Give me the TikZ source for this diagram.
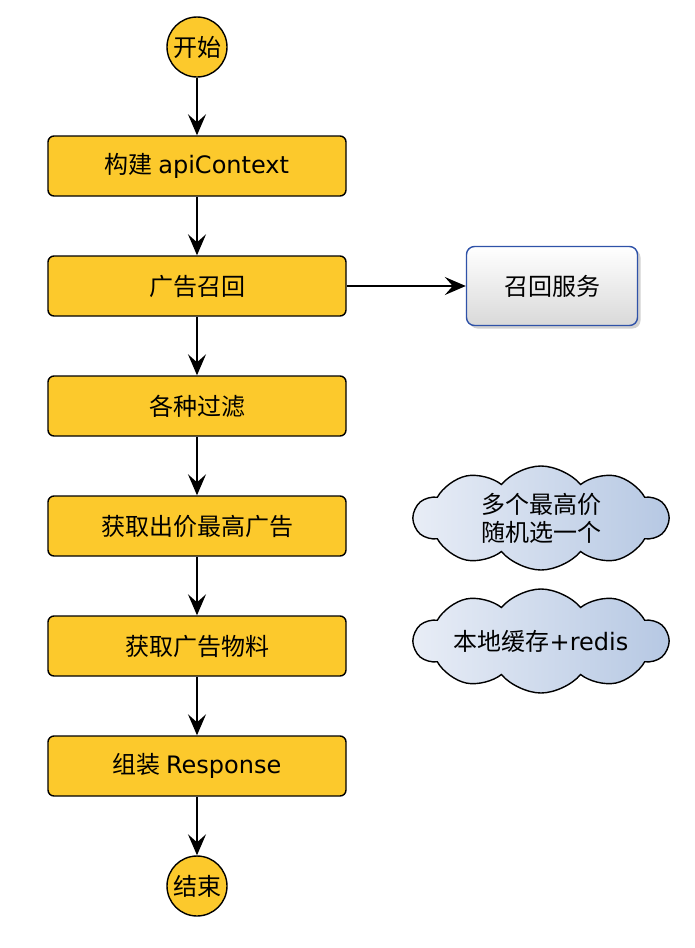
\documentclass[tikz,border=0pt]{standalone}
\usepackage{fontspec}
\setmainfont{Noto Sans CJK SC}
\newfontfamily\lat{DejaVu Sans}
\usetikzlibrary{arrows.meta,shapes.symbols,shadows}
\definecolor{flowyellow}{HTML}{FCC92C}
\definecolor{svcblue}{HTML}{2F52A8}
\definecolor{cloudblue}{HTML}{B6C8E3}
\definecolor{cloudlight}{HTML}{E8EDF6}
\tikzset{
  txt/.style={font=\fontsize{24}{28}\selectfont},
  startend/.style={txt,circle,draw,fill=flowyellow,line width=1.4pt,minimum size=60pt,inner sep=0pt},
  procbox/.style={txt,rectangle,rounded corners=6pt,draw,fill=flowyellow,line width=1.4pt,minimum width=298pt,minimum height=60pt},
  svcbox/.style={txt,rectangle,rounded corners=8pt,draw=svcblue,line width=1.4pt,top color=white,bottom color=black!15,drop shadow={shadow xshift=3pt,shadow yshift=-3pt,opacity=0.3,fill=black!60},minimum width=171pt,minimum height=79pt},
  note/.style={txt,cloud,cloud puffs=10,cloud puff arc=100,cloud ignores aspect,draw,line width=1.4pt,left color=cloudlight,right color=cloudblue,minimum width=254pt,minimum height=104pt,align=center,inner sep=0pt},
  flow/.style={line width=1.4pt,-{Stealth[length=21pt,width=18pt,inset=8pt]}}
}
\begin{document}
\begin{tikzpicture}[x=1pt,y=-1pt]
  \useasboundingbox (0,0) rectangle (694,948);
  \node[startend] (start) at (197,47) {开始};
  \node[procbox] (build) at (197,166) {构建 {\lat apiContext}};
  \node[procbox] (recall) at (197,286) {广告召回};
  \node[procbox] (filter) at (197,406) {各种过滤};
  \node[procbox] (maxbid) at (197,526) {获取出价最高广告};
  \node[procbox] (material) at (197,646) {获取广告物料};
  \node[procbox] (resp) at (197,766) {组装 {\lat Response}};
  \node[startend] (stop) at (197,886) {结束};
  \node[svcbox] (service) at (552,286) {召回服务};
  \node[note] (random) at (541,518) {多个最高价\\随机选一个};
  \node[note] (cache) at (541,641) {本地缓存{\lat +redis}};
  \draw[flow] (start) -- (build);
  \draw[flow] (build) -- (recall);
  \draw[flow] (recall) -- (filter);
  \draw[flow] (filter) -- (maxbid);
  \draw[flow] (maxbid) -- (material);
  \draw[flow] (material) -- (resp);
  \draw[flow] (resp) -- (stop);
  \draw[flow] (recall) -- (service);
\end{tikzpicture}
\end{document}
